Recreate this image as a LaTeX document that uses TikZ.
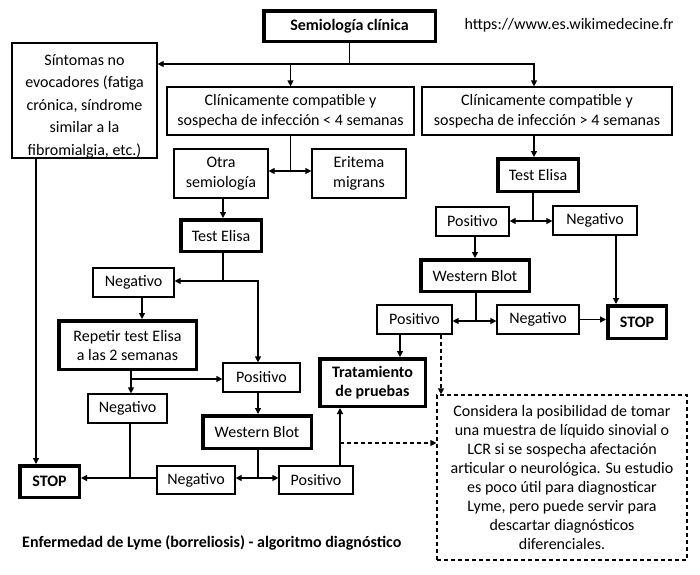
\documentclass[tikz,border=0pt]{standalone}
\usepackage{fontspec}
\setmainfont{Carlito}
\usetikzlibrary{arrows.meta,calc}
\newcommand\myfs{\fontsize{16}{20}\selectfont}
\begin{document}
\begin{tikzpicture}[x=1pt,y=-1pt,
  box/.style={draw, line width=1.2pt, align=center, inner sep=1pt, font=\myfs},
  tbox/.style={box, line width=3.5pt},
  txt/.style={align=center, inner sep=0pt, font=\myfs},
  ln/.style={line width=1.2pt},
  arr/.style={ln, -{Triangle[length=6pt,width=6pt]}},
  darr/.style={arr, dash pattern=on 4pt off 3pt}]
\useasboundingbox (0,0) rectangle (700,574);
% nodes
\node[tbox, minimum width=171.5, minimum height=30.5, font=\myfs\bfseries] (sem) at (349.5,26) {Semiología clínica};
\node[txt] (url) at (569,25) {https://www.es.wikimedecine.fr};
\node[box, minimum width=145, minimum height=115] (sint) at (84.5,100.5) {};
\node[txt, font=\fontsize{16}{22.5}\selectfont] (sinttxt) at (84.5,106) {Síntomas no\\evocadores (fatiga\\crónica, síndrome\\similar a la\\fibromialgia, etc.)};
\node[box, minimum width=247, minimum height=48] (clin1) at (290.5,111) {Clínicamente compatible y\\sospecha de infección < 4 semanas};
\node[box, minimum width=250, minimum height=48] (clin2) at (547,111) {Clínicamente compatible y\\sospecha de infección > 4 semanas};
\node[box, minimum width=94, minimum height=49] (otra) at (221,173.5) {Otra\\semiología};
\node[box, minimum width=94, minimum height=49] (erit) at (359,173.5) {Eritema\\migrans};
\node[tbox, minimum width=80.5, minimum height=31.5] (te1) at (221,235.5) {Test Elisa};
\node[box, minimum width=81, minimum height=29] (neg1) at (133.5,282.5) {Negativo};
\node[tbox, minimum width=137.5, minimum height=48.5, font=\fontsize{16}{19}\selectfont] (rep) at (127.5,345) {Repetir test Elisa\\a las 2 semanas};
\node[box, minimum width=77, minimum height=29] (pos1) at (261.5,377.5) {Positivo};
\node[box, minimum width=79, minimum height=29] (neg2) at (127.5,408.5) {Negativo};
\node[tbox, minimum width=108.5, minimum height=32.5] (wb1) at (257,432) {Western Blot};
\node[box, minimum width=78, minimum height=28] (neg3) at (196,480) {Negativo};
\node[box, minimum width=74, minimum height=28] (pos3) at (316,480) {Positivo};
\node[tbox, minimum width=59.5, minimum height=31.5, font=\myfs\bfseries] (stop1) at (49.5,481.5) {STOP};
\node[tbox, minimum width=105.5, minimum height=47.5, font=\fontsize{16}{19}\selectfont\bfseries] (trat) at (372.5,382.5) {Tratamiento\\de pruebas};
\node[tbox, minimum width=80.5, minimum height=32.5] (te2) at (538,175) {Test Elisa};
\node[box, minimum width=73, minimum height=29] (posR) at (472.5,221.5) {Positivo};
\node[box, minimum width=84, minimum height=29] (negR) at (595,220.5) {Negativo};
\node[tbox, minimum width=108.5, minimum height=31.5] (wbR) at (475,275.5) {Western Blot};
\node[box, minimum width=75, minimum height=29] (posR2) at (414.5,319.5) {Positivo};
\node[box, minimum width=82, minimum height=29] (negR2) at (538,319.5) {Negativo};
\node[tbox, minimum width=58.5, minimum height=32.5, font=\myfs\bfseries] (stopR) at (637,322) {STOP};
\node[box, dash pattern=on 4pt off 3pt, minimum width=250, minimum height=165, font=\fontsize{16}{19}\selectfont] (cons) at (562,477.5) {Considera la posibilidad de tomar\\una muestra de líquido sinovial o\\LCR si se sospecha afectación\\articular o neurológica. Su estudio\\es poco útil para diagnosticar\\Lyme, pero puede servir para\\descartar diagnósticos\\diferenciales.};
\node[anchor=west, inner sep=0pt, font=\myfs\bfseries] (title) at (22,543) {Enfermedad de Lyme (borreliosis) - algoritmo diagnóstico};
% connectors
\coordinate (j1) at (349.5,64);
\draw[ln] (sem.south) -- (j1);
\draw[arr] (j1) -- (j1 -| sint.east);
\draw[arr] (j1) -| ([xshift=-13]clin2.north);
\draw[arr] (j1 -| clin1.north) -- (clin1.north);
\coordinate (j2) at (290.5,171);
\draw[ln] (clin1.south) -- (j2);
\draw[arr] (j2) -- (j2 -| otra.east);
\draw[arr] (j2) -- (j2 -| erit.west);
\draw[arr] ([xshift=2]otra.south) -- ([xshift=2]otra.south |- te1.north);
\coordinate (j3) at (223,281);
\draw[ln] (j3 |- te1.south) -- (j3);
\draw[arr] (j3) -- (j3 -| neg1.east);
\draw[arr] (j3) -| ([xshift=-3.5]pos1.north);
\draw[arr] ([xshift=8.5]neg1.south) -- ([xshift=8.5]neg1.south |- rep.north);
\coordinate (j4) at (131,379);
\draw[arr] (j4 |- rep.south) -- (j4 |- neg2.north);
\draw[arr] (j4) -- (j4 -| pos1.west);
\draw[arr] ([xshift=-3.5]pos1.south) -- ([xshift=-3.5]pos1.south |- wb1.north);
\coordinate (j5) at (258,478);
\draw[ln] (j5 |- wb1.south) -- (j5);
\draw[arr] (j5) -- (j5 -| neg3.east);
\draw[arr] (j5) -- (j5 -| pos3.west);
\draw[arr] (neg3.west |- j5) -- (j5 -| stop1.east);
\draw[ln] ([xshift=2.5]neg2.south) -- ([xshift=2.5]neg2.south |- j5);
\coordinate (j6) at (36,0);
\draw[arr] (sint.south -| j6) -- (stop1.north -| j6);
\coordinate (j7) at (340,443);
\draw[arr] (pos3.north -| j7) -- (trat.south -| j7);
\draw[darr] (j7) -- (j7 -| cons.west);
\draw[arr] ([xshift=-14.5]posR2.south) -- ([xshift=-14.5]posR2.south |- trat.north);
\coordinate (j8) at (441,0);
\draw[darr] (posR2.south -| j8) -- (cons.north -| j8);
\draw[arr] ([xshift=-13]clin2.south) -- ([xshift=-13]clin2.south |- te2.north);
\coordinate (j9) at (533,221);
\draw[ln] (j9 |- te2.south) -- (j9);
\draw[arr] (j9) -- (j9 -| posR.east);
\draw[arr] (j9) -- (j9 -| negR.west);
\draw[arr] ([xshift=2.5]posR.south) -- ([xshift=2.5]posR.south |- wbR.north);
\coordinate (j10) at (476,321);
\draw[ln] (j10 |- wbR.south) -- (j10);
\draw[arr] (j10) -- (j10 -| posR2.east);
\draw[arr] (j10) -- (j10 -| negR2.west);
\draw[arr] (negR2.east) -- (negR2.east -| stopR.west);
\draw[arr] ([xshift=21]negR.south) -- ([xshift=21]negR.south |- stopR.north);
\end{tikzpicture}
\end{document}
